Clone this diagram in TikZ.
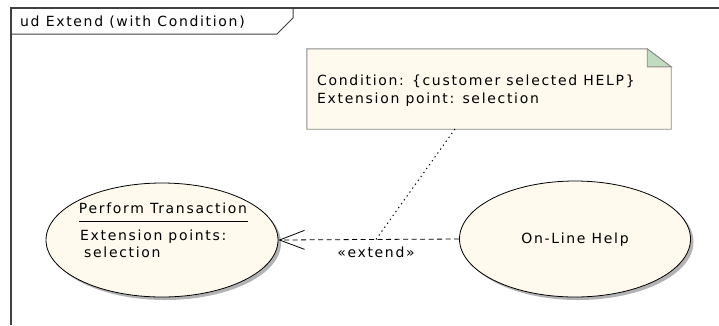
\documentclass[tikz,border=0pt]{standalone}
\usepackage{fontspec}
\setmainfont{DejaVu Sans}[LetterSpace=12]
\usetikzlibrary{arrows.meta,shapes.geometric,shadows,calc}
\definecolor{ucfill}{HTML}{FFF9EE}
\definecolor{notefill}{HTML}{FFF9EE}
\definecolor{foldfill}{HTML}{C0DCC0}
\definecolor{framecol}{HTML}{404040}
\begin{document}
\begin{tikzpicture}[x=1pt,y=-1pt,
  txt/.style={font=\fontsize{14}{16}\selectfont, inner sep=0pt, text=black},
  usecase/.style={ellipse, draw=black, fill=ucfill, line width=0.8pt, inner sep=0pt,
     drop shadow={shadow xshift=3pt, shadow yshift=-3pt, fill=black!50, opacity=0.6}},
  framestyle/.style={draw=framecol, line width=1.4pt},
  notestyle/.style={draw=black!45, fill=notefill, line width=0.9pt},
  extendline/.style={line width=0.8pt, dash pattern=on 5pt off 3.5pt},
  noteline/.style={line width=1pt, dash pattern=on 1.3pt off 3.5pt}]
\useasboundingbox (0,0) rectangle (719,325);
% frame
\draw[framestyle] (11,325) -- (11,8) -- (719,8);
\draw[framestyle, line width=1pt] (11,34) -- (277,34) -- (293,18) -- (293,8);
\node[txt, anchor=base west] (title) at (20,26.5) {ud Extend (with Condition)};
% note
\node[minimum width=364pt, minimum height=80pt, inner sep=0pt] (note) at (489,89) {};
\draw[notestyle] (note.north west) -- ([xshift=-24pt]note.north east) -- ([yshift=-18pt]note.north east) -- (note.south east) -- (note.south west) -- cycle;
\draw[notestyle, fill=foldfill] ([xshift=-24pt]note.north east) -- ([xshift=-24pt,yshift=-18pt]note.north east) -- ([yshift=-18pt]note.north east) -- cycle;
\node[txt, anchor=base west] (n1) at (317,85) {Condition: \{customer selected HELP\}};
\node[txt, anchor=base west] (n2) at (317,103) {Extension point: selection};
\coordinate (noteanchor) at (455,129);
% use cases
\node[usecase, minimum width=232pt, minimum height=114pt] (pt) at (162,240) {};
\node[txt, anchor=base] (ptname) at (163,213) {Perform Transaction};
\draw[line width=0.8pt] (79,221) -- (248,221);
\node[txt, anchor=base west] (ep1) at (80,240) {Extension points:};
\node[txt, anchor=base west] (ep2) at (84,257) {selection};
\node[usecase, minimum width=231pt, minimum height=116pt] (olh) at (575,239) {};
\node[txt] (olhname) at (575,240) {On-Line Help};
% extend connector
\draw[extendline, -{Straight Barb[length=25pt,width=19pt,line width=0.8pt]}] (olh.west) -- (pt.east);
\coordinate (mid) at ($(olh.west)!0.46!(pt.east)$);
\node[txt, anchor=base] (ext) at ([yshift=-18pt]mid) {«extend»};
\draw[noteline] (noteanchor) -- (mid);
\end{tikzpicture}
\end{document}
